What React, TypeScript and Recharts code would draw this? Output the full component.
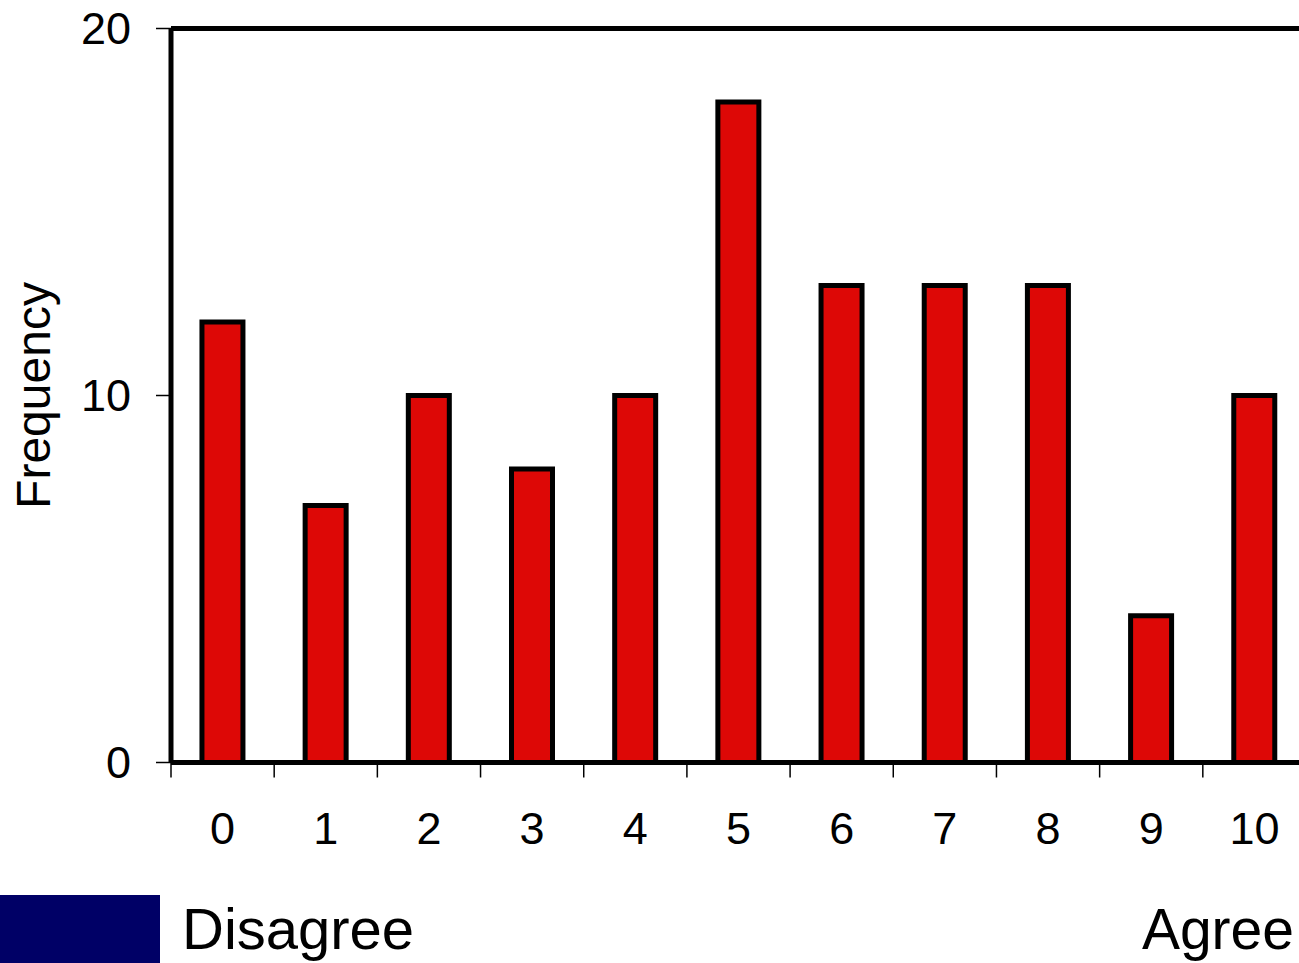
import { BarChart, Bar, XAxis, YAxis, ReferenceLine } from 'recharts';

const categories = ['0', '1', '2', '3', '4', '5', '6', '7', '8', '9', '10'];
const frequency = [12, 7, 10, 8, 10, 18, 13, 13, 13, 4, 10];
const yTicks = [0, 10, 20];
const yMax = 20;

const data = categories.map((name, i) => ({ name, value: frequency[i] }));

const font = '"Liberation Sans", Arial, sans-serif';

const CHART_W = 1310;
const Y_AXIS_W = 171;
const MARGIN_RIGHT = 4;
const TICK_LEN = 15;
const TICK_GAP = 35;
// half of one category band, used when the tick payload has no offset
const HALF_BAND = (CHART_W - Y_AXIS_W - MARGIN_RIGHT) / categories.length / 2;

// category label in the middle, short tick line at the left edge of the band
function BandTick(props: any) {
  const { x, y, payload } = props;
  const half = payload && payload.offset > 2 ? payload.offset : HALF_BAND;
  const axisY = y - TICK_LEN - TICK_GAP;
  return (
    <g>
      <line
        x1={x - half}
        x2={x - half}
        y1={axisY}
        y2={axisY + TICK_LEN}
        stroke="#000"
        strokeWidth={1.5}
      />
      <text
        x={x}
        y={y}
        dy="0.71em"
        textAnchor="middle"
        fontSize={45}
        fontFamily={font}
        fill="#000"
      >
        {payload.value}
      </text>
    </g>
  );
}

export default function App() {
  return (
    <div
      style={{
        position: 'absolute',
        left: 0,
        top: 0,
        width: 1299,
        height: 963,
        overflow: 'hidden',
        background: '#fff',
      }}
    >
      <BarChart
        width={CHART_W}
        height={880}
        data={data}
        margin={{ top: 28.5, right: MARGIN_RIGHT, left: 0, bottom: 0 }}
        barCategoryGap="30%"
      >
        <XAxis
          dataKey="name"
          height={117.5}
          axisLine={{ stroke: '#000', strokeWidth: 5 }}
          tickLine={false}
          tickSize={TICK_LEN}
          tickMargin={TICK_GAP}
          interval={0}
          tick={<BandTick />}
        />
        <YAxis
          width={Y_AXIS_W}
          domain={[0, yMax]}
          ticks={yTicks}
          tickSize={TICK_LEN}
          tickMargin={25}
          axisLine={{ stroke: '#000', strokeWidth: 5 }}
          tickLine={{ stroke: '#000', strokeWidth: 1.5 }}
          tick={{ fontSize: 45, fill: '#000', fontFamily: font }}
          label={{
            value: 'Frequency',
            angle: -90,
            position: 'insideLeft',
            dx: 28,
            style: { fontSize: 48, fill: '#000', fontFamily: font, textAnchor: 'middle' },
          }}
        />
        <ReferenceLine y={yMax} stroke="#000" strokeWidth={5} />
        <Bar
          dataKey="value"
          fill="#dd0806"
          stroke="#000"
          strokeWidth={5}
          isAnimationActive={false}
        />
      </BarChart>
      <svg
        width={1299}
        height={963}
        style={{ position: 'absolute', left: 0, top: 0, pointerEvents: 'none' }}
      >
        <rect x={0} y={895} width={160} height={68} fill="#000066" />
        <text x={182} y={949} fontSize={58} fontFamily={font} fill="#000">
          Disagree
        </text>
        <text x={1294} y={949} fontSize={57} fontFamily={font} fill="#000" textAnchor="end">
          Agree
        </text>
      </svg>
    </div>
  );
}
